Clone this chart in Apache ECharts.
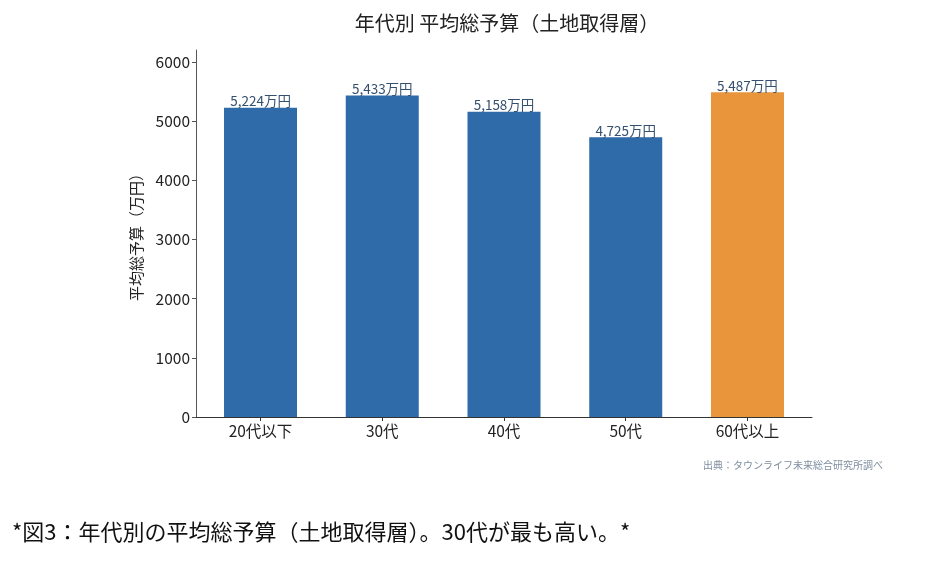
<!DOCTYPE html>
<html>
<head>
<meta charset="utf-8">
<script src="https://cdn.jsdelivr.net/npm/echarts@6/dist/echarts.min.js"></script>
<style>
  html, body { margin: 0; padding: 0; background: #fff; }
  #chart { width: 935px; height: 561px; }
</style>
</head>
<body>
<div id="chart"></div>
<script>
var ageGroups = ['20代以下', '30代', '40代', '50代', '60代以上'];
var avgBudget = [5224, 5433, 5158, 4725, 5487];
var yTicks = [0, 1000, 2000, 3000, 4000, 5000, 6000];
var highlightIndex = 4;

var font = '"Noto Sans CJK JP", "Noto Sans", sans-serif';

function fmtMan(v) {
  return String(v).replace(/\B(?=(\d{3})+(?!\d))/g, ',') + '万円';
}

var catPos = [];
var barData = [];
for (var i = 0; i < avgBudget.length; i++) {
  catPos.push(i);
  barData.push({
    value: [i, avgBudget[i]],
    itemStyle: { color: i == highlightIndex ? '#e8953c' : '#2e6ba8' }
  });
}

var chart = echarts.init(document.getElementById('chart'));
chart.setOption({
  animation: false,
  textStyle: { fontFamily: font },
  title: [
    {
      text: '年代別 平均総予算（土地取得層）',
      left: 502, top: 8, textAlign: 'center',
      textStyle: { fontFamily: font, fontSize: 20, fontWeight: 'normal', color: '#222' }
    },
    {
      text: '出典：タウンライフ未来総合研究所調べ',
      left: 698, top: 455,
      textStyle: { fontFamily: font, fontSize: 10, fontWeight: 'normal', color: '#7f8ea0' }
    },
    {
      text: '*図3：年代別の平均総予算（土地取得層）。30代が最も高い。*',
      left: 7, top: 516,
      textStyle: { fontFamily: font, fontSize: 22, fontWeight: 'normal', color: '#111' }
    }
  ],
  grid: { left: 196, right: 123, top: 50, bottom: 144 },
  xAxis: {
    type: 'value',
    min: -0.53, max: 4.53,
    splitLine: { show: false },
    axisLine: { show: true, onZero: false, lineStyle: { color: '#333', width: 1 } },
    axisTick: { show: true, customValues: catPos, length: 4, lineStyle: { color: '#333' } },
    axisLabel: {
      customValues: catPos,
      color: '#222', fontSize: 15.5, margin: 6, fontFamily: font,
      formatter: function(v) { return ageGroups[Math.round(v)]; }
    }
  },
  yAxis: {
    type: 'value',
    min: 0, max: 6200,
    name: '平均総予算（万円）',
    nameLocation: 'middle',
    nameGap: 52,
    nameTextStyle: { color: '#222', fontSize: 15, fontFamily: font },
    splitLine: { show: false },
    axisLine: { show: true, onZero: false, lineStyle: { color: '#555', width: 1 } },
    axisTick: { show: true, customValues: yTicks, length: 4, lineStyle: { color: '#555' } },
    axisLabel: {
      customValues: yTicks,
      color: '#222', fontSize: 15.5, margin: 6, fontFamily: font,
      formatter: function(v) { return String(v); }
    }
  },
  series: [
    {
      type: 'bar',
      data: barData,
      barWidth: 73,
      label: {
        show: true,
        position: 'top',
        distance: 0,
        color: '#34506f',
        fontSize: 13.5,
        fontFamily: font,
        formatter: function(p) { return fmtMan(p.value[1]); }
      }
    }
  ]
});
</script>
</body>
</html>
